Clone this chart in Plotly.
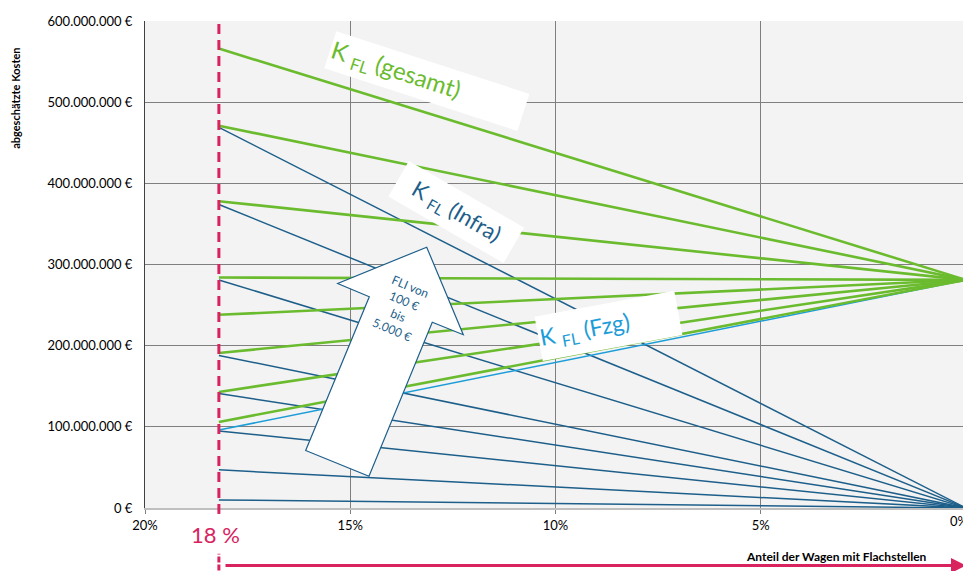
import plotly.graph_objects as go

# ---------------- data (values in million €) ----------------
x_share = [18.2, 0]                      # share of wagons with flat spots (%)
fli_levels = ["100 €", "500 €", "1.000 €", "1.500 €", "2.000 €", "3.000 €", "4.000 €", "5.000 €"]
infra_start = [10, 47, 95, 141, 188, 281, 374, 469]
infra_end = [0, 0, 0, 0, 0, 0, 0, 0]
gesamt_start = [106, 143, 191, 238, 284, 378, 471, 566]
gesamt_end = [281, 281, 281, 281, 281, 281, 281, 281]
fzg_values = [96, 281]

x_tickvals = [20, 15, 10, 5, 0]
x_ticktext = ["20%", "15%", "10%", "5%", "0%"]
y_tickvals = [0, 100, 200, 300, 400, 500, 600]
y_ticktext = ["0 €", "100.000.000 €", "200.000.000 €", "300.000.000 €",
              "400.000.000 €", "500.000.000 €", "600.000.000 €"]

# ---------------- style ----------------
GREEN = "#6BBB2E"
DBLUE = "#1D5F8A"
LBLUE = "#1C9DD8"
CRIMSON = "#D8235F"
FONT = "Lato"
TICK = 13

OFF = 8                       # page body margin
W, H = 971 - OFF, 571 - OFF   # figure size
# plot area in page pixels
PL, PR, PT, PB = 145, 966, 17, 508


def px(x):
    return (x - PL) / (PR - PL)


def py(y):
    return (PB - y) / (PB - PT)


fig = go.Figure()

for lvl, s, e in zip(fli_levels, infra_start, infra_end):
    fig.add_trace(go.Scatter(x=x_share, y=[s, e], mode="lines",
                             line=dict(color=DBLUE, width=1.5),
                             name=f"Infra {lvl}", showlegend=False))

fig.add_trace(go.Scatter(x=x_share, y=fzg_values, mode="lines",
                         line=dict(color=LBLUE, width=1.5),
                         name="Fzg", showlegend=False))

for lvl, s, e in zip(fli_levels, gesamt_start, gesamt_end):
    fig.add_trace(go.Scatter(x=x_share, y=[s, e], mode="lines",
                             line=dict(color=GREEN, width=2.6),
                             name=f"gesamt {lvl}", showlegend=False))

# big hollow arrow (decoration)
arrow_pts = [(426.7, 245), (463.3, 333.3), (432.3, 320.7), (369, 476),
             (305.7, 450), (369.3, 295), (337.7, 281.7)]
path = "M " + " L ".join(f"{px(a):.4f},{py(b):.4f}" for a, b in arrow_pts) + " Z"
shapes = [
    dict(type="path", xref="paper", yref="paper", path=path,
         fillcolor="white", line=dict(color=DBLUE, width=1.2), layer="above"),
    dict(type="line", xref="x", yref="paper", x0=18.2, x1=18.2,
         y0=py(514), y1=py(15), line=dict(color=CRIMSON, width=3, dash="10px,6px"),
         layer="above"),
    dict(type="line", xref="x", yref="paper", x0=18.2, x1=18.2,
         y0=py(571), y1=py(554), line=dict(color=CRIMSON, width=3, dash="6px,2px"),
         layer="above"),
    dict(type="line", xref="x", yref="paper", x0=0, x1=0, y0=0, y1=1,
         line=dict(color="#7F7F7F", width=1), layer="below"),
]

annotations = [
    dict(xref="paper", yref="paper", x=px(426.7), y=py(77),
         text="K <sub>FL</sub> (gesamt)", showarrow=False, textangle=18,
         width=200, height=36, align="left", bgcolor="white",
         font=dict(family=FONT, size=24, color=GREEN), xanchor="center", yanchor="middle"),
    dict(xref="paper", yref="paper", x=px(456), y=py(210),
         text="K <sub>FL</sub> (Infra)", showarrow=False, textangle=30,
         width=130, height=38, align="center", bgcolor="white",
         font=dict(family=FONT, size=22, color=DBLUE), xanchor="center", yanchor="middle"),
    dict(xref="paper", yref="paper", x=px(608), y=py(324.5),
         text="K <sub>FL</sub> (Fzg)", showarrow=False, textangle=-10.5,
         width=139, height=42, align="left", bgcolor="white",
         font=dict(family=FONT, size=23, color=LBLUE), xanchor="center", yanchor="middle"),
    dict(xref="paper", yref="paper", x=px(401), y=py(306),
         text="FLI von<br>100 €<br>bis<br>5.000 €", showarrow=False, textangle=23,
         font=dict(family=FONT, size=12, color=DBLUE), xanchor="center", yanchor="middle"),
    dict(xref="paper", yref="paper", x=px(15.5), y=py(95),
         text="<b>abgeschätzte Kosten</b>", showarrow=False, textangle=-90,
         font=dict(family=FONT, size=11, color="black"), xanchor="center", yanchor="middle"),
    dict(xref="paper", yref="paper", x=px(215), y=py(534.5),
         text="18 %", showarrow=False,
         font=dict(family=FONT, size=22, color=CRIMSON), xanchor="center", yanchor="middle"),
    dict(xref="paper", yref="paper", x=px(836), y=py(557),
         text="<b>Anteil der Wagen mit Flachstellen</b>", showarrow=False,
         font=dict(family=FONT, size=12, color="black"), xanchor="center", yanchor="middle"),
    dict(xref="paper", yref="paper", x=px(966), y=py(566), ax=-742, ay=0,
         text="", showarrow=True, arrowhead=2, arrowsize=1, arrowwidth=3,
         arrowcolor=CRIMSON),
    # last x tick label, kept inside the page
    dict(xref="paper", yref="paper", x=px(970), y=py(521),
         text=x_ticktext[-1], showarrow=False,
         font=dict(family=FONT, size=TICK, color="black"), xanchor="right", yanchor="middle"),
]

fig.update_layout(
    width=W, height=H, autosize=False,
    margin=dict(l=PL - OFF, r=W - (PR - OFF), t=PT - OFF, b=H - (PB - OFF)),
    paper_bgcolor="white", plot_bgcolor="#F3F3F3",
    font=dict(family=FONT, size=TICK, color="black"),
    showlegend=False,
    shapes=shapes, annotations=annotations,
    xaxis=dict(range=[20, 0], tickvals=x_tickvals[:-1], ticktext=x_ticktext[:-1],
               showgrid=True, gridcolor="#7F7F7F", gridwidth=1, zeroline=False,
               showline=True, linecolor="#BFBFBF", linewidth=2,
               ticks="outside", ticklen=4, tickcolor="#7F7F7F",
               tickfont=dict(family=FONT, size=TICK, color="black")),
    yaxis=dict(range=[0, 600], tickvals=y_tickvals, ticktext=y_ticktext,
               showgrid=True, gridcolor="#7F7F7F", gridwidth=1, zeroline=False,
               showline=True, linecolor="#404040", linewidth=1,
               ticks="outside", ticklen=9, tickcolor="rgba(0,0,0,0)",
               tickfont=dict(family=FONT, size=TICK, color="black")),
)

fig.write_html("out.html")
